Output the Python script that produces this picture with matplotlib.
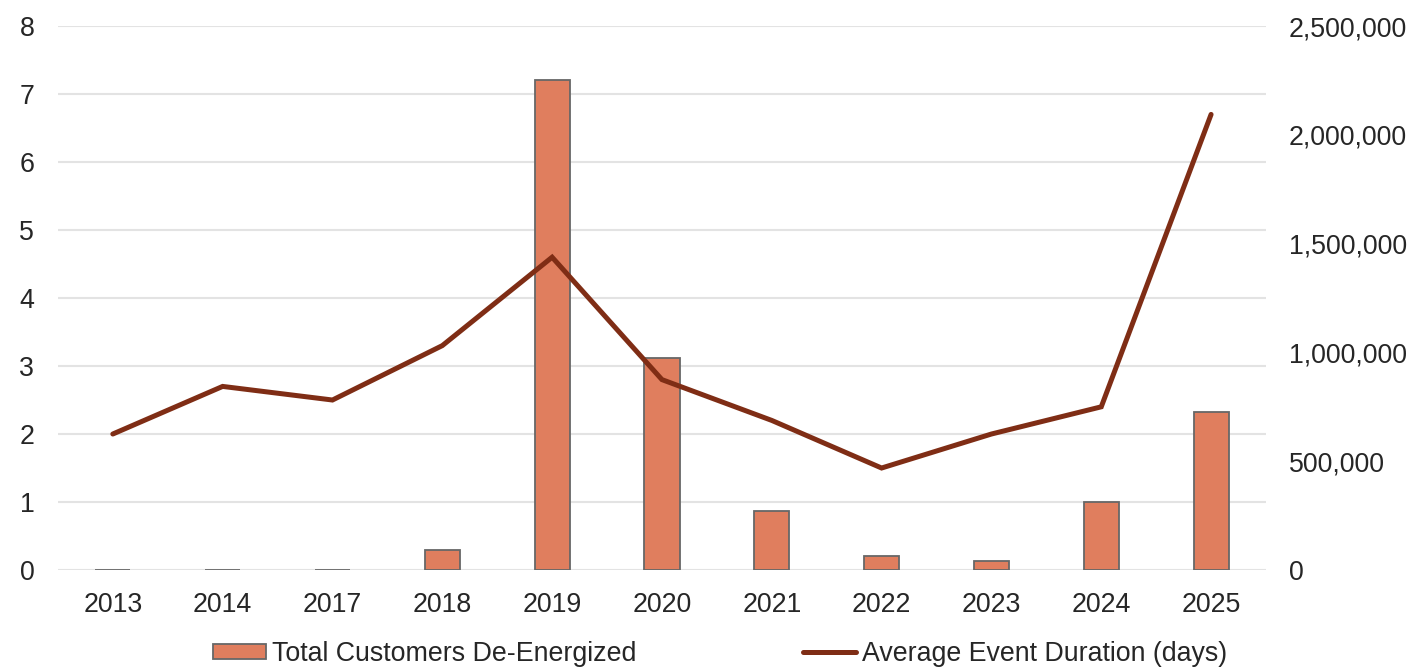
import numpy as np
import matplotlib
matplotlib.use("Agg")
import matplotlib.pyplot as plt
from matplotlib.ticker import FuncFormatter, FixedLocator

plt.rcParams['font.family'] = ['Liberation Sans', 'DejaVu Sans']

years = ["2013", "2014", "2017", "2018", "2019", "2020", "2021", "2022", "2023", "2024", "2025"]
customers = [0, 0, 0, 92000, 2250000, 974000, 271000, 64000, 41000, 312000, 724000]
duration_days = [2.0, 2.7, 2.5, 3.3, 4.6, 2.8, 2.2, 1.5, 2.0, 2.4, 6.7]

days_max = 8
cust_max = 2500000

bar_color = "#E07E5E"
bar_edge = "#676767"
line_color = "#7F2D15"
grid_color = "#E3E3E3"
text_color = "#262626"
fs = 19.3

fig = plt.figure(figsize=(14.12, 6.67), dpi=100)
axb = fig.add_axes([0.041, 0.1454, 0.8556, 0.8156])
axl = axb.twinx()

x = np.arange(len(years))

# Bars: customers on the right axis
axb.bar(x, customers, width=0.32, color=bar_color, edgecolor=bar_edge,
        linewidth=1.3, zorder=3, label="Total Customers De-Energized")
axb.set_ylim(0, cust_max)
axb.set_xlim(-0.5, len(years) - 0.5)
axb.yaxis.tick_right()
axb.set_yticks(np.arange(0, cust_max + 1, 500000))
axb.yaxis.set_major_formatter(FuncFormatter(lambda v, p: f"{int(v):,}"))
# Gridlines follow the day scale on the left
axb.yaxis.remove_overlapping_locs = False
axb.yaxis.set_minor_locator(FixedLocator(np.arange(0, days_max + 1) * cust_max / days_max))
axb.grid(which='minor', axis='y', color=grid_color, linewidth=1.5, zorder=0)
axb.grid(which='major', visible=False)
axb.set_axisbelow(True)
axb.tick_params(axis='y', which='both', length=0, pad=16.5, labelsize=fs, colors=text_color)
for lab in axb.get_yticklabels():
    lab.set_horizontalalignment('left')

axb.set_xticks(x)
axb.set_xticklabels(years)
axb.tick_params(axis='x', length=0, pad=16, labelsize=fs, colors=text_color)

# Line: average duration on the left axis
axl.plot(x, duration_days, color=line_color, linewidth=3.6, solid_capstyle='round',
         solid_joinstyle='miter', zorder=4, label="Average Event Duration (days)")
axl.set_ylim(0, days_max)
axl.yaxis.tick_left()
axl.set_yticks(np.arange(0, days_max + 1, 1))
axl.tick_params(axis='y', length=0, pad=17, labelsize=fs, colors=text_color)

for a in (axb, axl):
    for s in a.spines.values():
        s.set_visible(False)

handles = axb.get_legend_handles_labels()[0] + axl.get_legend_handles_labels()[0]
labels = axb.get_legend_handles_labels()[1] + axl.get_legend_handles_labels()[1]
leg = fig.legend(handles, labels, loc='center', bbox_to_anchor=(720 / 1412, 1 - 654 / 667),
                 ncol=2, frameon=False, fontsize=fs, handlelength=1.98, handleheight=0.52,
                 handletextpad=0.22, columnspacing=6.2, borderaxespad=0, borderpad=0)
for t in leg.get_texts():
    t.set_color(text_color)

fig.savefig("out.png", dpi=100)
